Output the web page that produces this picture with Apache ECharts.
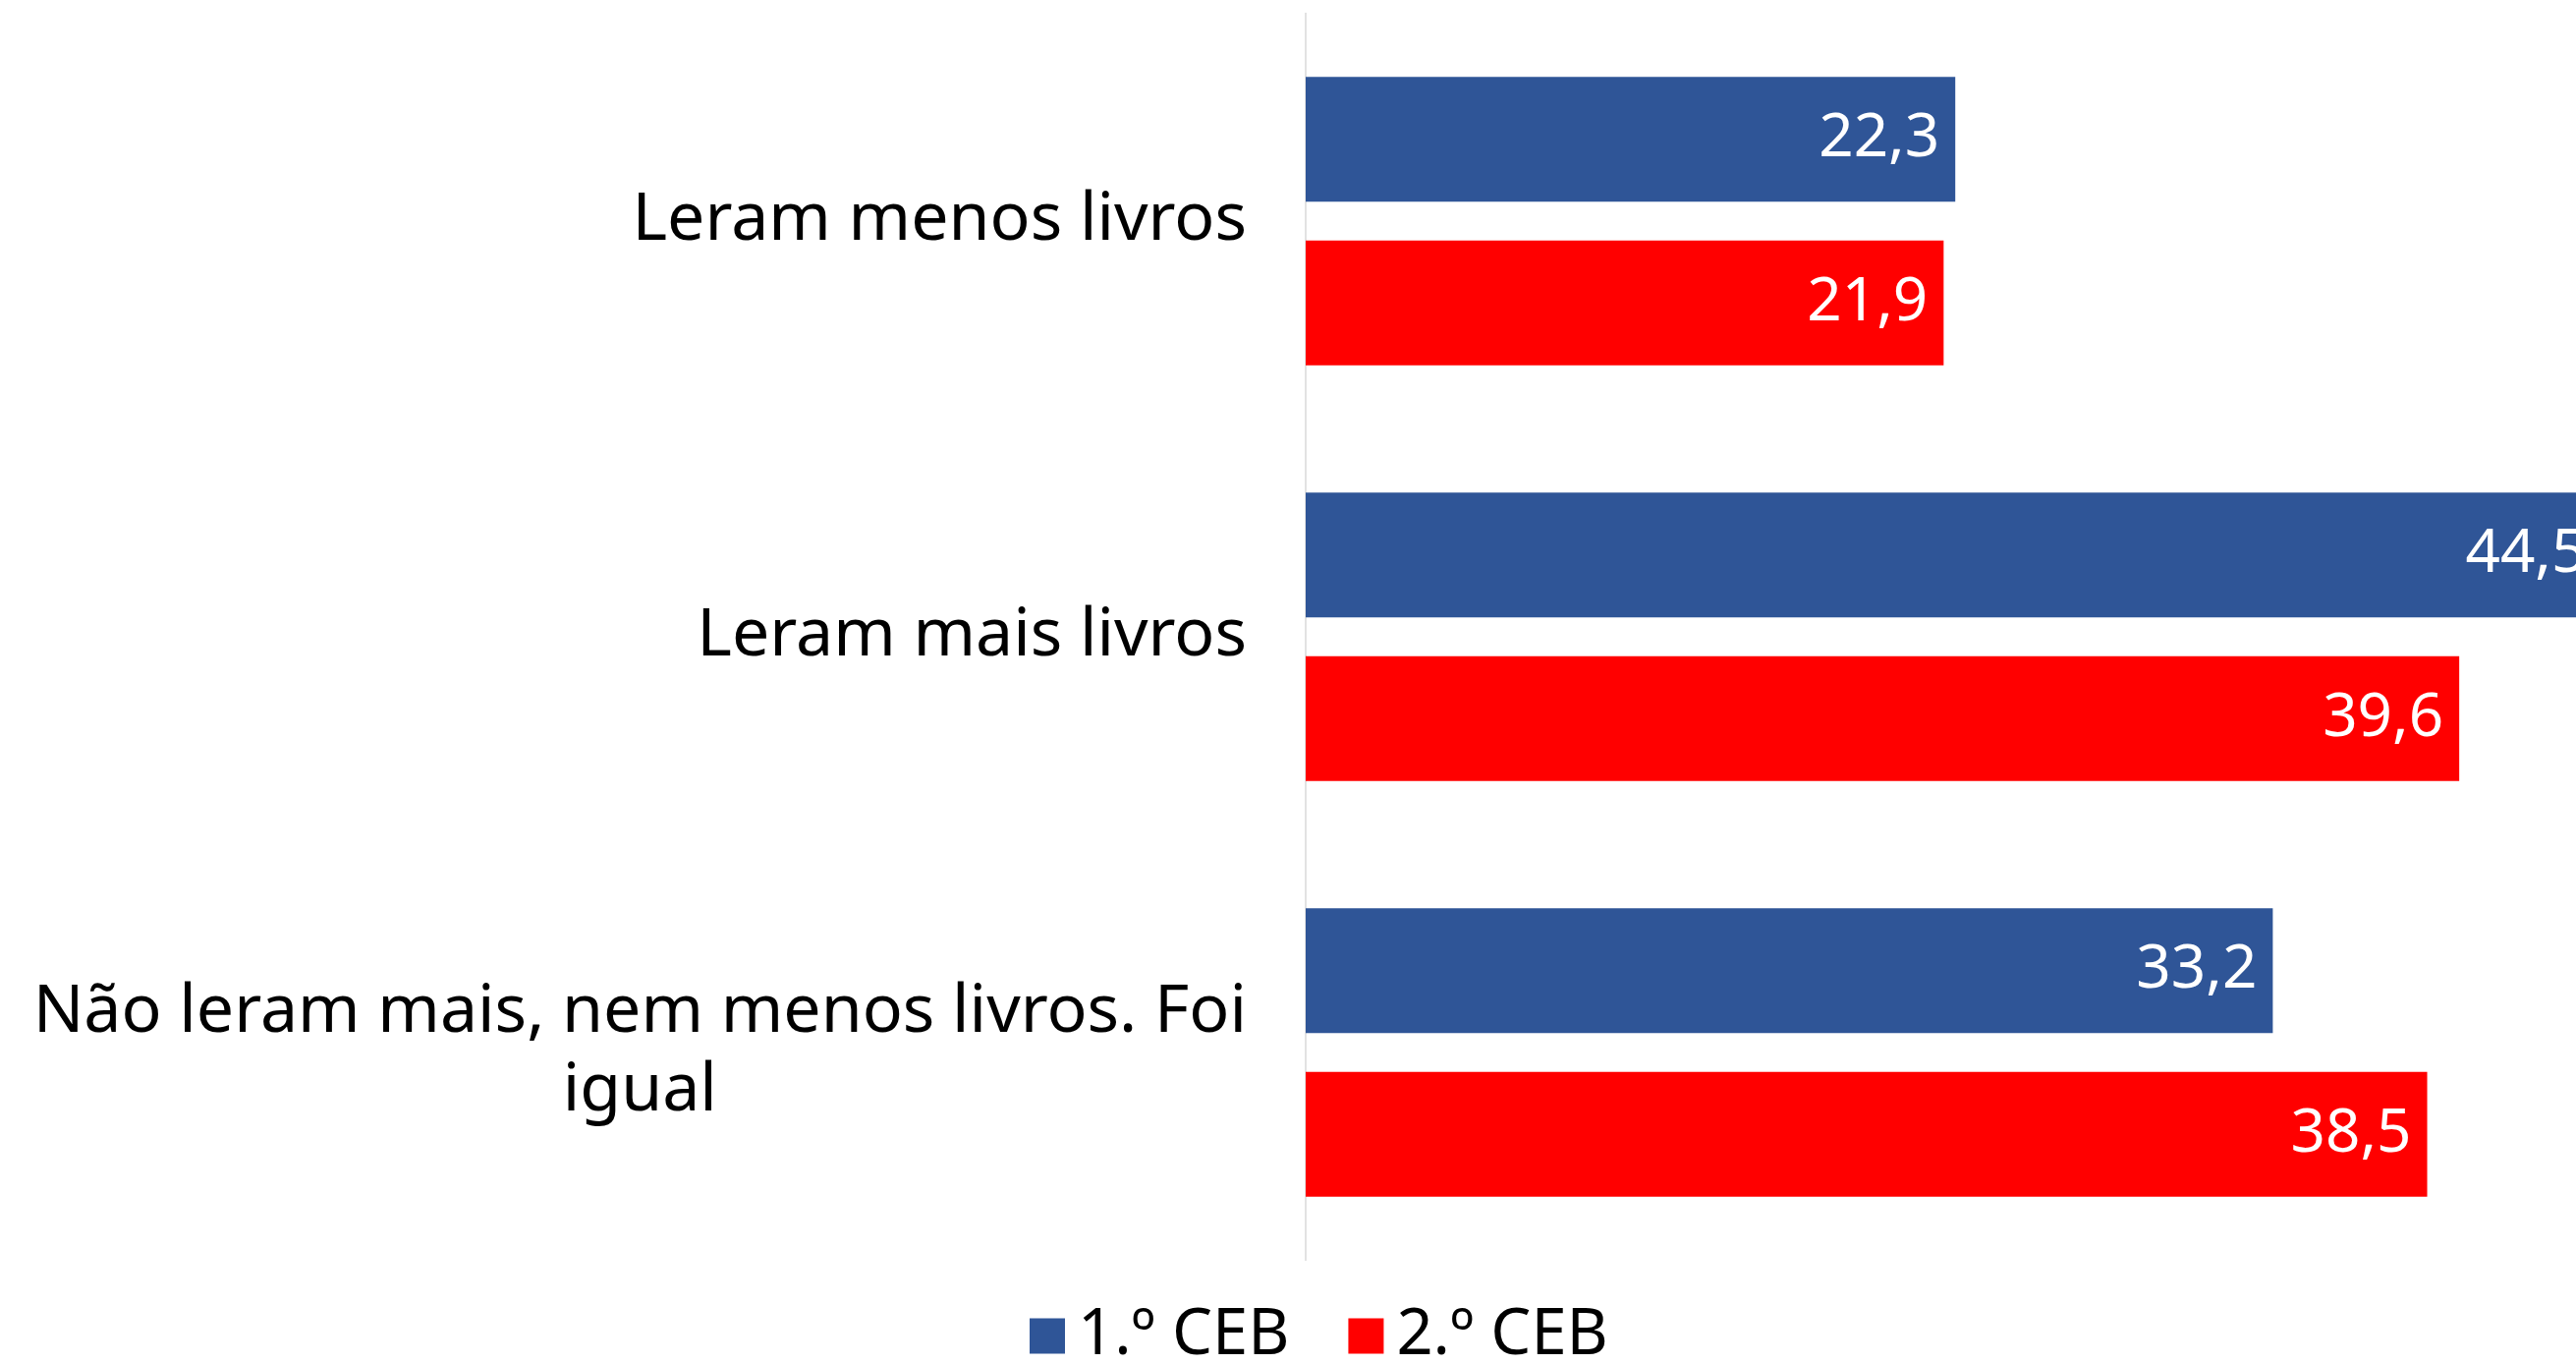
<!DOCTYPE html>
<html>
<head>
<meta charset="utf-8">
<script src="https://cdn.jsdelivr.net/npm/echarts@6/dist/echarts.min.js"></script>
<style>
  html, body { margin: 0; padding: 0; background: #fff; }
  #chart { width: 2622px; height: 1388px; }
</style>
</head>
<body>
<div id="chart"></div>
<script>
const categories = ['Leram menos livros', 'Leram mais livros', 'Não leram mais, nem menos livros. Foi igual']
const seriesNames = ['1.º CEB', '2.º CEB']
const ceb1 = [22.3, 44.5, 33.2]
const ceb2 = [21.9, 39.6, 38.5]

let fontFamily = '"Noto Sans", sans-serif'
let chart = echarts.init(document.getElementById('chart'))

function fmtValue(params) {
  return params.value.toFixed(1).replace('.', ',')
}

// long labels wrap onto two lines, second line centred under the first
function fmtCategory(value) {
  if (value.length < 30) return '{a|' + value + '}'
  let cut = value.lastIndexOf(' ')
  return '{a|' + value.slice(0, cut) + '}\n{b|' + value.slice(cut + 1) + '}'
}

function barSeries(name, data, color) {
  return {
    name: name,
    type: 'bar',
    barWidth: 127,
    barGap: '31%',
    clip: false,
    itemStyle: { color: color },
    label: {
      show: true,
      position: 'insideRight',
      distance: 16,
      color: '#fff',
      fontSize: 62,
      fontFamily: fontFamily,
      formatter: fmtValue,
    },
    data: data,
  }
}

let option = {
  animation: false,
  legend: {
    bottom: -9,
    left: 1043,
    itemWidth: 36,
    itemHeight: 36,
    itemGap: 60,
    icon: 'rect',
    textStyle: {
      fontSize: 65,
      color: '#000',
      fontFamily: fontFamily,
      padding: [0, 0, 0, 8],
    },
    data: seriesNames,
  },
  grid: {
    left: 1329,
    top: 13.5,
    width: 1482.5,
    height: 1269,
    outerBoundsMode: 'none',
  },
  xAxis: {
    type: 'value',
    min: 0,
    max: 50,
    show: false,
  },
  yAxis: {
    type: 'category',
    inverse: true,
    data: categories,
    axisTick: { show: false },
    axisLine: { lineStyle: { color: '#d9d9d9', width: 1.5 } },
    axisLabel: {
      margin: 60,
      fontSize: 68,
      color: '#000',
      fontFamily: fontFamily,
      lineHeight: 80,
      formatter: fmtCategory,
      rich: {
        a: { fontSize: 68, color: '#000', fontFamily: fontFamily, lineHeight: 80 },
        b: { fontSize: 68, color: '#000', fontFamily: fontFamily, lineHeight: 80, align: 'center' },
      },
    },
  },
  series: [
    barSeries(seriesNames[0], ceb1, '#2F5597'),
    barSeries(seriesNames[1], ceb2, '#FF0000'),
  ],
}

chart.setOption(option)
</script>
</body>
</html>
